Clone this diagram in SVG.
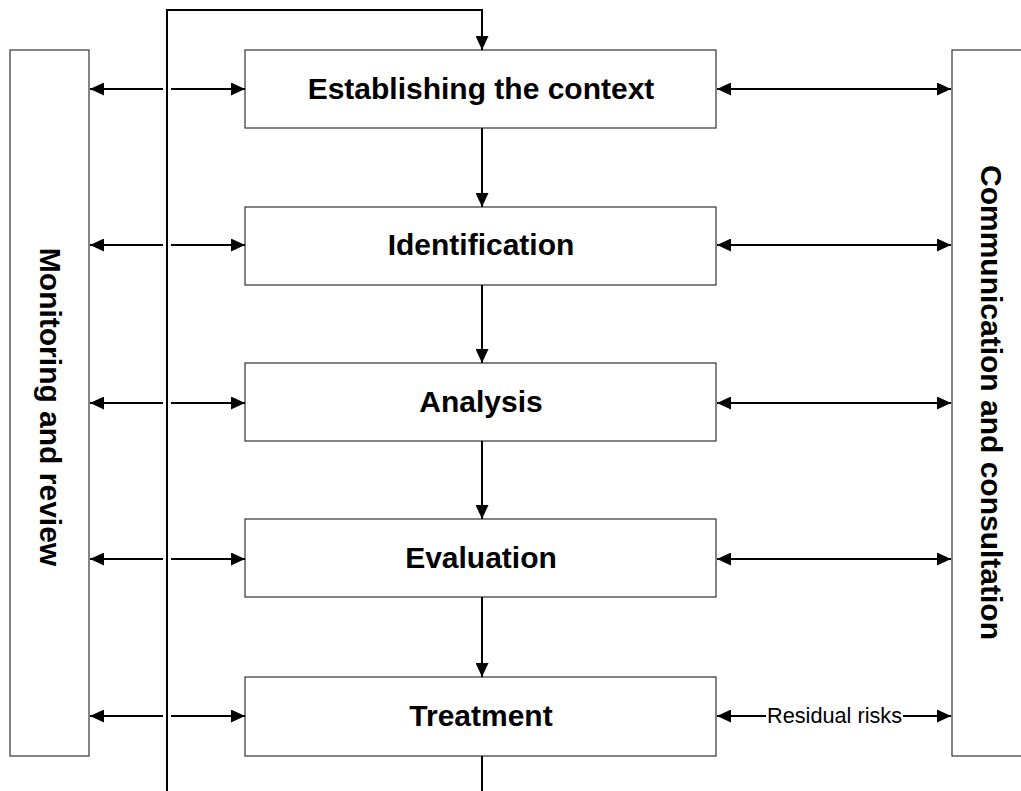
<svg xmlns="http://www.w3.org/2000/svg" width="1021" height="791" viewBox="0 0 1021 791">
<style>
.box{fill:#fff;stroke:#333;stroke-width:1.2}
.lbl{font-family:"Liberation Sans",Arial,sans-serif;font-weight:bold;font-size:30px;fill:#000;text-anchor:middle}
.ln{fill:none;stroke:#000;stroke-width:2}
.arr{fill:none;stroke:#000;stroke-width:2;marker-end:url(#ah)}
.dbl{fill:none;stroke:#000;stroke-width:2;marker-end:url(#ah);marker-start:url(#ah)}
.small{font-family:"Liberation Sans",Arial,sans-serif;font-size:21.7px;fill:#000;text-anchor:middle}
</style>
<defs>
<marker id="ah" viewBox="0 0 14 13" refX="14" refY="6.5" markerWidth="14" markerHeight="13" markerUnits="userSpaceOnUse" orient="auto-start-reverse">
<path d="M0,0 L14,6.5 L0,13 z" fill="#000"/>
</marker>
</defs>
<rect width="1021" height="791" fill="#fff"/>
<g id="monitoring">
<rect class="box" x="10" y="50" width="79" height="706"/>
<text class="lbl" transform="translate(40,407) rotate(90)" x="0" y="0" font-size="31">Monitoring and review</text>
</g>
<g id="communication">
<rect class="box" x="952" y="50" width="90" height="706"/>
<text class="lbl" transform="translate(981,402.5) rotate(90)" x="0" y="0">Communication and consultation</text>
</g>
<g id="establishing">
<rect class="box" x="245" y="50" width="471" height="78"/>
<text class="lbl" x="481" y="98.5">Establishing the context</text>
</g>
<g id="identification">
<rect class="box" x="245" y="207" width="471" height="78"/>
<text class="lbl" x="481" y="255">Identification</text>
</g>
<g id="analysis">
<rect class="box" x="245" y="363" width="471" height="78"/>
<text class="lbl" x="481" y="411.5">Analysis</text>
</g>
<g id="evaluation">
<rect class="box" x="245" y="519" width="471" height="78"/>
<text class="lbl" x="481" y="567.5">Evaluation</text>
</g>
<g id="treatment">
<rect class="box" x="245" y="677" width="471" height="79"/>
<text class="lbl" x="481" y="726">Treatment</text>
</g>
<g id="connectors">
<path class="arr" d="M167,791 L167,10 L482,10 L482,50"/>
<path class="arr" d="M482,128 L482,207"/>
<path class="arr" d="M482,285 L482,363"/>
<path class="arr" d="M482,441 L482,519"/>
<path class="arr" d="M482,597 L482,677"/>
<path class="ln" d="M482,756 L482,791"/>
<path class="arr" d="M163,89 L90,89"/>
<path class="arr" d="M171,89 L245,89"/>
<path class="arr" d="M163,245 L90,245"/>
<path class="arr" d="M171,245 L245,245"/>
<path class="arr" d="M163,403 L90,403"/>
<path class="arr" d="M171,403 L245,403"/>
<path class="arr" d="M163,559 L90,559"/>
<path class="arr" d="M171,559 L245,559"/>
<path class="arr" d="M163,716 L90,716"/>
<path class="arr" d="M171,716 L245,716"/>
<path class="dbl" d="M717,89 L951,89"/>
<path class="dbl" d="M717,245 L951,245"/>
<path class="dbl" d="M717,403 L951,403"/>
<path class="dbl" d="M717,559 L951,559"/>
<path class="dbl" d="M717,716 L951,716"/>
<rect x="766" y="704" width="137" height="24" fill="#fff"/>
<text class="small" x="834.5" y="723">Residual risks</text>
</g>
</svg>
